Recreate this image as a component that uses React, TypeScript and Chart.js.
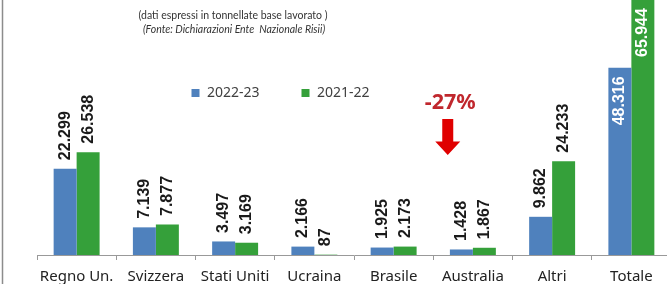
import React, { useEffect, useRef } from "react";
import { Chart, registerables } from "chart.js";
Chart.register(...registerables);

const categories = ["Regno Un.", "Svizzera", "Stati Uniti", "Ucraina", "Brasile", "Australia", "Altri", "Totale"];
const values2022_23 = [22299, 7139, 3497, 2166, 1925, 1428, 9862, 48316];
const values2021_22 = [26538, 7877, 3169, 87, 2173, 1867, 24233, 65944];
const seriesLabels = ["2022-23", "2021-22"];
const seriesColors = ["#4f81bd", "#35a03a"];
const insideLabelCategories = ["Totale"];
const subtitleText = "(dati espressi in tonnellate base lavorato )";
const sourceText = "(Fonte: Dichiarazioni Ente  Nazionale Risii)";
const changeText = "-27%";

const OFFSET_Y = 20; // canvas is shifted up by this many px
const W = 700;
const H = 320;

function fmt(v: number): string {
  return String(Math.round(v)).replace(/\B(?=(\d{3})+(?!\d))/g, ".");
}

const decorPlugin = {
  id: "decor",
  afterDraw(chart: any) {
    const ctx = chart.ctx as CanvasRenderingContext2D;
    ctx.save();
    // left border
    ctx.strokeStyle = "#8c8c8c";
    ctx.lineWidth = 1.5;
    ctx.beginPath();
    ctx.moveTo(2.5, 0);
    ctx.lineTo(2.5, H);
    ctx.stroke();

    // subtitles
    ctx.fillStyle = "#333333";
    ctx.textAlign = "center";
    ctx.textBaseline = "middle";
    ctx.font = "10.5px Lato";
    ctx.fillText(subtitleText, 233, 16 + OFFSET_Y);
    ctx.font = "italic 10.5px Lato";
    ctx.fillText(sourceText, 234, 30 + OFFSET_Y);

    // legend
    const legendX = [191.5, 301.5];
    ctx.font = "14px 'Noto Sans'";
    ctx.textAlign = "left";
    chart.data.datasets.forEach((ds: any, i: number) => {
      ctx.fillStyle = ds.backgroundColor;
      ctx.fillRect(legendX[i], 89 + OFFSET_Y, 8, 8);
      ctx.fillStyle = "#404040";
      ctx.fillText(ds.label, legendX[i] + 15.5, 93.5 + OFFSET_Y);
    });

    // change annotation
    const xs = chart.scales.x;
    const cx = (xs.getPixelForValue(4) + xs.getPixelForValue(5)) / 2 + 14.5;
    ctx.fillStyle = "#c0272d";
    ctx.textAlign = "center";
    ctx.font = "bold 21.5px 'Noto Sans'";
    ctx.fillText(changeText, cx + 2.5, 103 + OFFSET_Y);
    ctx.fillStyle = "#e00000";
    const top = 119 + OFFSET_Y;
    const headTop = 141.5 + OFFSET_Y;
    const tip = 155 + OFFSET_Y;
    ctx.beginPath();
    ctx.moveTo(cx - 5.5, top);
    ctx.lineTo(cx + 5.5, top);
    ctx.lineTo(cx + 5.5, headTop);
    ctx.lineTo(cx + 12.5, headTop);
    ctx.lineTo(cx, tip);
    ctx.lineTo(cx - 12.5, headTop);
    ctx.lineTo(cx - 5.5, headTop);
    ctx.closePath();
    ctx.fill();
    ctx.restore();
  },
  afterDatasetsDraw(chart: any) {
    const ctx = chart.ctx as CanvasRenderingContext2D;
    ctx.save();
    ctx.font = "bold 16px 'Liberation Sans'";
    ctx.textBaseline = "middle";
    const gap = 8.5;
    chart.data.datasets.forEach((ds: any, di: number) => {
      const meta = chart.getDatasetMeta(di);
      meta.data.forEach((el: any, i: number) => {
        const text = fmt(ds.data[i]);
        const topY = el.y;
        ctx.save();
        if (insideLabelCategories.includes(chart.data.labels[i])) {
          ctx.translate(el.x, topY + gap);
          ctx.rotate(-Math.PI / 2);
          ctx.textAlign = "right";
          ctx.fillStyle = "#ffffff";
        } else {
          ctx.translate(el.x, topY - gap);
          ctx.rotate(-Math.PI / 2);
          ctx.textAlign = "left";
          ctx.fillStyle = "#1a1a1a";
        }
        ctx.fillText(text, 0, 0);
        ctx.restore();
      });
    });
    ctx.restore();
  },
};

export default function App() {
  const ref = useRef<HTMLCanvasElement | null>(null);
  useEffect(() => {
    if (!ref.current) return;
    const chart = new Chart(ref.current, {
      type: "bar",
      data: {
        labels: categories,
        datasets: [
          { label: seriesLabels[0], data: values2022_23, backgroundColor: seriesColors[0], categoryPercentage: 0.58, barPercentage: 1 },
          { label: seriesLabels[1], data: values2021_22, backgroundColor: seriesColors[1], categoryPercentage: 0.58, barPercentage: 1 },
        ],
      },
      options: {
        responsive: false,
        animation: false,
        devicePixelRatio: 1,
        layout: { padding: { left: 37, right: 29, top: 0, bottom: 6 } },
        plugins: { legend: { display: false }, tooltip: { enabled: false }, title: { display: false } },
        scales: {
          x: {
            grid: { display: true, drawOnChartArea: false, drawTicks: true, tickLength: 5, color: "#999999", offset: true },
            border: { display: true, color: "#999999", width: 1 },
            ticks: { color: "#222222", padding: 8, font: { family: "'Noto Sans'", size: 15 }, maxRotation: 0, autoSkip: false },
          },
          y: { display: false, min: 0, max: 71000 },
        },
      },
      plugins: [decorPlugin],
    });
    return () => chart.destroy();
  }, []);
  return (
    <div style={{ position: "fixed", left: 0, top: 0, width: 667, height: 284, overflow: "hidden", background: "#ffffff" }}>
      <canvas ref={ref} width={W} height={H} style={{ position: "absolute", left: 0, top: -OFFSET_Y, width: W, height: H }} />
    </div>
  );
}
